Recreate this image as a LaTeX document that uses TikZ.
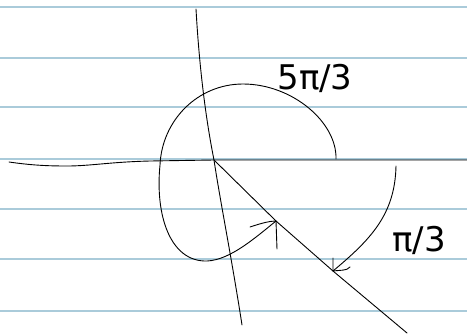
\documentclass[tikz,border=0pt]{standalone}
\usepackage{fontspec}
\setmainfont{DejaVu Sans}
\begin{document}
\begin{tikzpicture}[x=1pt,y=-1pt,
  ruled/.style={draw={rgb,255:red,170;green,203;blue,218},line width=1.6pt},
  ink/.style={draw=black,line width=0.9pt,line cap=round,line join=round},
  lbl/.style={font=\fontsize{34}{34}\selectfont,inner sep=0pt}]
\useasboundingbox[fill=white] (0,0) rectangle (467,335);
% ruled paper lines
\foreach \yy in {7,58,107,159,209,259,311} \draw[ruled] (0,\yy) -- (467,\yy);
% coordinates
\coordinate (O) at (214,160);
\coordinate (rayend) at (407,333);
\coordinate (a1) at (276,221);
\coordinate (a2) at (333,271);
% horizontal axis
\draw[ink] (9,162) .. controls (30,165) and (45,166) .. (67,166)
  .. controls (90,166) and (110,162) .. (150,161) -- (O) -- (467,160);
% vertical axis
\draw[ink] (196,9) .. controls (200,80) and (208,130) .. (O)
  .. controls (220,200) and (232,260) .. (242,325);
% ray
\draw[ink] (O) -- (a1) -- (a2) -- (rayend);
% 5pi/3 arc
\draw[ink] (336,159) .. controls (337,122) and (292,84) .. (243,84)
  .. controls (198,84) and (162,120) .. (160,165)
  .. controls (155,215) and (170,262) .. (207,261)
  .. controls (230,260) and (255,238) .. (a1);
\draw[ink] (250,227) .. controls (262,223) and (270,221) .. (a1) -- (277,249);
% pi/3 arc
\draw[ink] (396,166) .. controls (395,215) and (370,240) .. (a2);
\draw[ink] (333,258) -- (a2) .. controls (340,270) and (347,271) .. (350,267);
% labels
\node[lbl] (l1) at (315,78) {5π/3};
\node[lbl] (l2) at (419,240) {π/3};
\end{tikzpicture}
\end{document}
